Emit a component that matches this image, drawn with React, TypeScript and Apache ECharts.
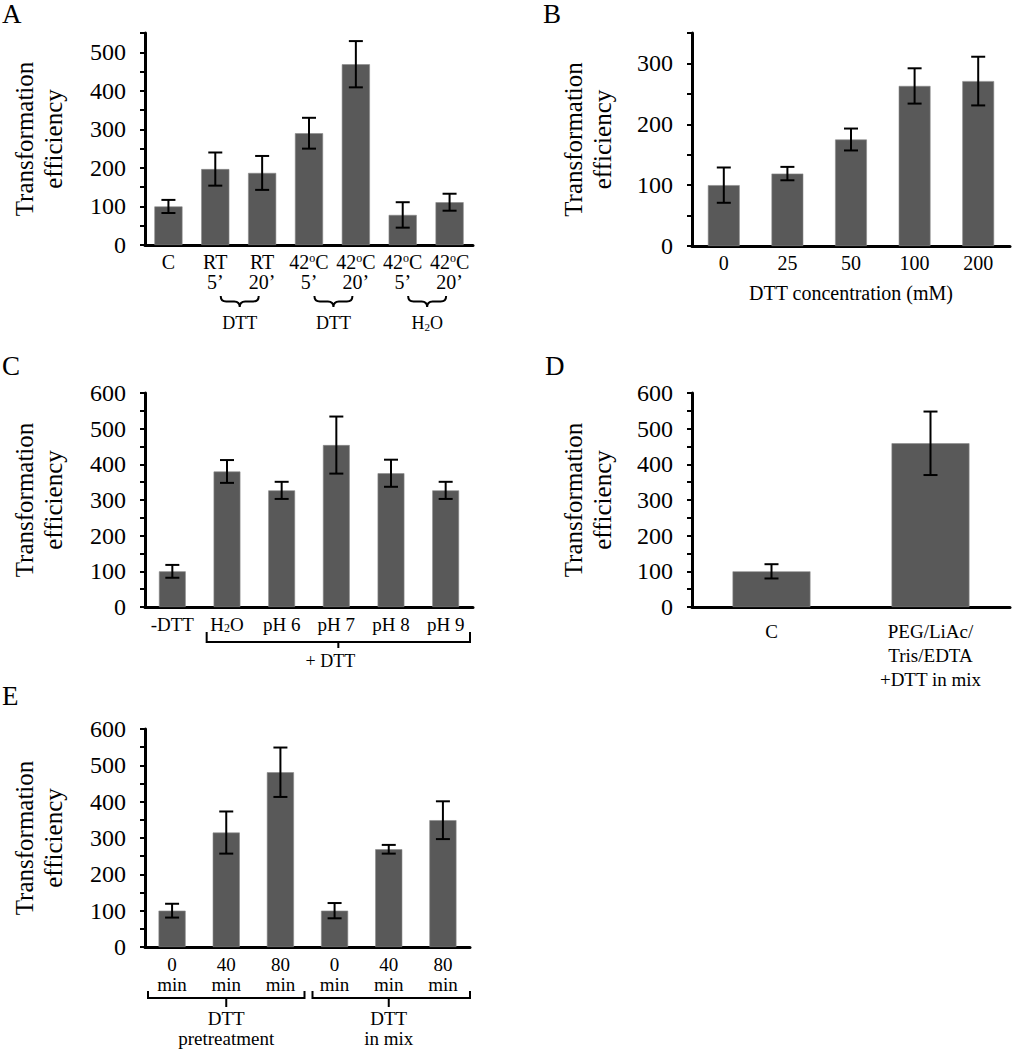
import React, { useEffect, useRef } from 'react';
import * as echarts from 'echarts';

const FONT = '"Liberation Serif", "Times New Roman", Times, serif';
const BAR_COLOR = '#595959';
const Y_TITLE = 'Transformation\nefficiency';

// Panel A
const catsA = ['C', 'RT\n5’', 'RT\n20’', '42{s|o}C\n5’', '42{s|o}C\n20’', '42{s|o}C\n5’', '42{s|o}C\n20’'];
const valuesA = [100, 197, 187, 290, 469, 78, 111];
const errorsA = [17, 43, 44, 40, 60, 33, 22];
const groupsA = [[1, 2], [3, 4], [5, 6]];
const groupLabelsA = ['DTT', 'DTT', 'H{b|2}O'];

// Panel B
const catsB = ['0', '25', '50', '100', '200'];
const valuesB = [100, 119, 175, 263, 271];
const errorsB = [29, 11, 18, 29, 40];
const xTitleB = 'DTT concentration (mM)';

// Panel C
const catsC = ['-DTT', 'H{b|2}O', 'pH 6', 'pH 7', 'pH 8', 'pH 9'];
const valuesC = [100, 380, 327, 454, 375, 327];
const errorsC = [18, 32, 24, 80, 38, 24];
const groupLabelC = '+ DTT';

// Panel D
const catsD = ['C', 'PEG/LiAc/\nTris/EDTA\n+DTT in mix'];
const valuesD = [100, 459];
const errorsD = [20, 89];

// Panel E
const catsE = ['0\nmin', '40\nmin', '80\nmin', '0\nmin', '40\nmin', '80\nmin'];
const valuesE = [100, 315, 481, 100, 269, 349];
const errorsE = [19, 58, 68, 21, 12, 52];
const groupsE = [[0, 2], [3, 5]];
const groupLabelsE = ['DTT\npretreatment', 'DTT\nin mix'];

const panelLetters = ['A', 'B', 'C', 'D', 'E'];

const RICH = {
  s: { fontSize: 12, verticalAlign: 'top', fontFamily: FONT, color: '#000', padding: [0, 0, 6, 0] },
  b: { fontSize: 12, verticalAlign: 'bottom', fontFamily: FONT, color: '#000' },
};

echarts.graphic.registerShape(
  'brace',
  echarts.graphic.extendShape({
    shape: { x: 0, y: 0, w: 0, h: 0 },
    buildPath(ctx: any, s: any) {
      const { x, y, w, h } = s;
      const r = h / 2;
      const cx = x + w / 2;
      const my = y + r;
      ctx.moveTo(x, y);
      ctx.quadraticCurveTo(x, my, x + r, my);
      ctx.lineTo(cx - r, my);
      ctx.quadraticCurveTo(cx, my, cx, y + h);
      ctx.quadraticCurveTo(cx, my, cx + r, my);
      ctx.lineTo(x + w - r, my);
      ctx.quadraticCurveTo(x + w, my, x + w, y);
    },
  }) as any
);

function xAxis(gridIndex: number, data: string[], margin: number, lineHeight: number, fontSize: number, extra: any = {}) {
  return {
    type: 'category',
    gridIndex,
    data,
    axisLine: { show: true, lineStyle: { color: '#000', width: 3 } },
    axisTick: { show: false },
    axisLabel: {
      interval: 0,
      fontSize,
      lineHeight,
      color: '#000',
      margin,
      fontFamily: FONT,
      rich: RICH,
    },
    splitLine: { show: false },
    ...extra,
  };
}

function yAxis(gridIndex: number, max: number, nameGap: number) {
  return {
    type: 'value',
    gridIndex,
    min: 0,
    max,
    interval: 50,
    name: Y_TITLE,
    nameLocation: 'middle',
    nameGap,
    nameTextStyle: { fontSize: 25, lineHeight: 29, fontFamily: FONT, color: '#000' },
    axisLine: { show: true, lineStyle: { color: '#000', width: 3 } },
    axisTick: { show: true, length: 5, lineStyle: { color: '#000', width: 2 } },
    axisLabel: {
      fontSize: 24,
      color: '#000',
      margin: 19,
      fontFamily: FONT,
      formatter: (v: number) => (v % 100 === 0 ? String(v) : ''),
    },
    splitLine: { show: false },
  };
}

function barSeries(idx: number, values: number[], barWidth: string) {
  return {
    type: 'bar',
    xAxisIndex: idx,
    yAxisIndex: idx,
    data: values,
    barWidth,
    itemStyle: { color: BAR_COLOR, borderColor: '#8a8a8a', borderWidth: 0.6 },
    z: 2,
  };
}

function errorSeries(idx: number, values: number[], errors: number[]) {
  return {
    type: 'custom',
    xAxisIndex: idx,
    yAxisIndex: idx,
    data: values.map((v, i) => [i, v - errors[i], v + errors[i]]),
    z: 10,
    renderItem: (_params: any, api: any) => {
      const x = api.value(0);
      const lo = api.coord([x, api.value(1)]);
      const hi = api.coord([x, api.value(2)]);
      const w = 7;
      const st = { stroke: '#000', lineWidth: 2 };
      return {
        type: 'group',
        children: [
          { type: 'line', shape: { x1: lo[0], y1: lo[1], x2: hi[0], y2: hi[1] }, style: st },
          { type: 'line', shape: { x1: lo[0] - w, y1: lo[1], x2: lo[0] + w, y2: lo[1] }, style: st },
          { type: 'line', shape: { x1: hi[0] - w, y1: hi[1], x2: hi[0] + w, y2: hi[1] }, style: st },
        ],
      };
    },
  };
}

export default function App() {
  const ref = useRef<HTMLDivElement>(null);

  useEffect(() => {
    if (!ref.current) return;
    const chart = echarts.init(ref.current, undefined, { renderer: 'svg' });

    const option: any = {
      animation: false,
      backgroundColor: '#fff',
      textStyle: { fontFamily: FONT },
      grid: [
        { left: 145, top: 33, width: 328, height: 212 },
        { left: 692, top: 33, width: 318, height: 213 },
        { left: 145, top: 393, width: 328, height: 214 },
        { left: 692, top: 393, width: 318, height: 214 },
        { left: 145, top: 729, width: 325, height: 218 },
      ],
      xAxis: [
        xAxis(0, catsA, 7, 20, 20),
        xAxis(1, catsB, 7, 20, 20, {
          name: xTitleB,
          nameLocation: 'middle',
          nameGap: 37,
          nameTextStyle: { fontSize: 20, color: '#000', fontFamily: FONT },
        }),
        xAxis(2, catsC, 7, 20, 19),
        xAxis(3, catsD, 12, 24, 19),
        xAxis(4, catsE, 7, 20, 19),
      ],
      yAxis: [yAxis(0, 550, 77), yAxis(1, 350, 75), yAxis(2, 600, 77), yAxis(3, 600, 75), yAxis(4, 600, 77)],
      series: [
        barSeries(0, valuesA, '60%'),
        errorSeries(0, valuesA, errorsA),
        barSeries(1, valuesB, '50%'),
        errorSeries(1, valuesB, errorsB),
        barSeries(2, valuesC, '49%'),
        errorSeries(2, valuesC, errorsC),
        barSeries(3, valuesD, '49%'),
        errorSeries(3, valuesD, errorsD),
        barSeries(4, valuesE, '50%'),
        errorSeries(4, valuesE, errorsE),
      ],
    };
    chart.setOption(option);

    const px = (g: number, i: number, v: number) => chart.convertToPixel({ gridIndex: g } as any, [i, v]) as number[];
    const lineStyle = { stroke: '#000', lineWidth: 2, fill: 'none' };
    const graphics: any[] = [];

    // Panel letters
    const letterPos = [
      [2, 0],
      [543, 0],
      [2, 352],
      [545, 352],
      [2, 682],
    ];
    panelLetters.forEach((l, i) => {
      graphics.push({
        type: 'text',
        x: letterPos[i][0],
        y: letterPos[i][1],
        style: { text: l, fontSize: 27, fontFamily: FONT, fill: '#000', align: 'left', verticalAlign: 'top' },
      });
    });

    // Panel A braces
    const y0A = px(0, 0, 0)[1];
    groupsA.forEach((g, k) => {
      const xa = px(0, g[0], 0)[0];
      const xb = px(0, g[1], 0)[0];
      const mid = (xa + xb) / 2 + 1;
      graphics.push({
        type: 'brace',
        shape: { x: mid - 19, y: y0A + 51, w: 38, h: 11 },
        style: lineStyle,
      });
      graphics.push({
        type: 'text',
        x: mid,
        y: y0A + 78,
        style: {
          text: groupLabelsA[k],
          fontSize: 18,
          fontFamily: FONT,
          fill: '#000',
          align: 'center',
          verticalAlign: 'middle',
          rich: { b: { fontSize: 11, verticalAlign: 'bottom', fontFamily: FONT, fill: '#000' } },
        },
      });
    });

    // Panel C bracket
    {
      const y0 = px(2, 0, 0)[1];
      const band = px(2, 1, 0)[0] - px(2, 0, 0)[0];
      const left = px(2, 1, 0)[0] - band / 2 + 7;
      const right = px(2, catsC.length - 1, 0)[0] + band / 2 - 3;
      const mid = (left + right) / 2;
      graphics.push({
        type: 'polyline',
        shape: { points: [[left, y0 + 25], [left, y0 + 35], [right, y0 + 35], [right, y0 + 25]] },
        style: lineStyle,
      });
      graphics.push({
        type: 'line',
        shape: { x1: mid, y1: y0 + 35, x2: mid, y2: y0 + 41 },
        style: lineStyle,
      });
      graphics.push({
        type: 'text',
        x: mid - 8,
        y: y0 + 54,
        style: { text: groupLabelC, fontSize: 18, fontFamily: FONT, fill: '#000', align: 'center', verticalAlign: 'middle' },
      });
    }

    // Panel E brackets
    {
      const y0 = px(4, 0, 0)[1];
      const band = px(4, 1, 0)[0] - px(4, 0, 0)[0];
      groupsE.forEach((g, k) => {
        const left = px(4, g[0], 0)[0] - band / 2 + (k === 0 ? 3 : 5);
        const right = px(4, g[1], 0)[0] + band / 2 - (k === 0 ? 3 : 0);
        const mid = (px(4, g[0], 0)[0] + px(4, g[1], 0)[0]) / 2;
        graphics.push({
          type: 'polyline',
          shape: { points: [[left, y0 + 44], [left, y0 + 51], [right, y0 + 51], [right, y0 + 44]] },
          style: lineStyle,
        });
        graphics.push({
          type: 'line',
          shape: { x1: mid, y1: y0 + 51, x2: mid, y2: y0 + 60 },
          style: lineStyle,
        });
        graphics.push({
          type: 'text',
          x: mid,
          y: y0 + 81,
          style: {
            text: groupLabelsE[k],
            fontSize: 19,
            lineHeight: 20,
            fontFamily: FONT,
            fill: '#000',
            align: 'center',
            verticalAlign: 'middle',
          },
        });
      });
    }

    chart.setOption({ graphic: graphics });

    return () => {
      chart.dispose();
    };
  }, []);

  return (
    <div
      ref={ref}
      style={{ position: 'absolute', left: 0, top: 0, width: 1012, height: 1050, background: '#fff' }}
    />
  );
}
